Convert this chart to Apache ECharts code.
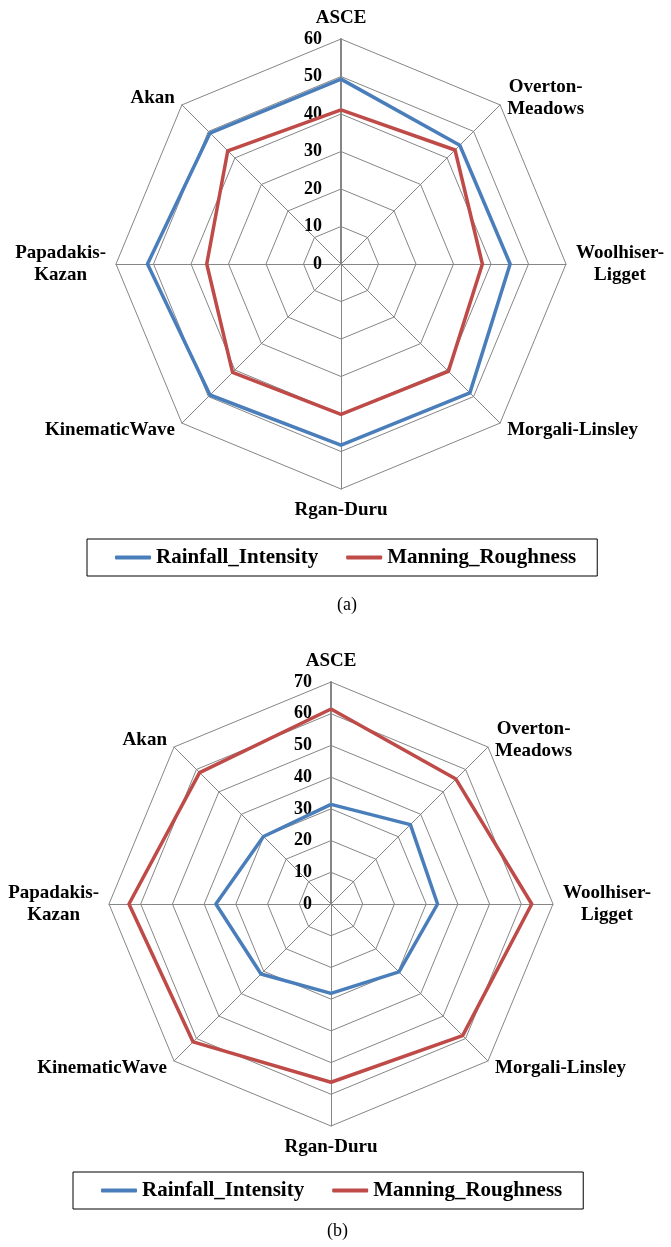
<!DOCTYPE html>
<html>
<head>
<meta charset="utf-8">
<script src="https://cdn.jsdelivr.net/npm/echarts@6/dist/echarts.min.js"></script>
<style>
html,body{margin:0;padding:0;background:#fff;}
#chart{width:671px;height:1247px;}
</style>
</head>
<body>
<div id="chart"></div>
<script>
// Categories in ECharts radar order (counter-clockwise from the top)
const categories = ['ASCE', 'Akan', 'Papadakis-\nKazan', 'KinematicWave', 'Rgan-Duru', 'Morgali-Linsley', 'Woolhiser-\nLigget', 'Overton-\nMeadows'];
const seriesNames = ['Rainfall_Intensity', 'Manning_Roughness'];

// Panel (a)
const rainfallA = [49.3, 49.4, 51.6, 49.4, 48.3, 48.6, 45.1, 44.8];
const manningA  = [41.1, 42.7, 35.8, 40.9, 40.1, 40.5, 37.7, 43.0];
const maxA = 60;

// Panel (b)
const rainfallB = [31.4, 30.1, 36.3, 31.2, 28.2, 30.3, 33.6, 35.4];
const manningB  = [61.5, 58.6, 63.7, 61.5, 56.2, 58.7, 63.3, 55.7];
const maxB = 70;

const captions = ['(a)', '(b)'];

const BLUE = '#4A7EBB', RED = '#BE4B48', GRID = '#868686';
const SERIF = '"Liberation Serif", "Times New Roman", serif';

function indicators(max) {
  return categories.map((c, i) => {
    const o = { name: c, max: max, min: 0 };
    if (i === 0) {
      o.axisLabel = { show: true };
      o.axisLine = { lineStyle: { color: GRID, width: 2 } };
    }
    return o;
  });
}

function radar(center, radius, max) {
  return {
    center: center,
    radius: radius,
    startAngle: 90,
    shape: 'polygon',
    splitNumber: max / 10,
    indicator: indicators(max),
    nameGap: 10,
    axisName: {
      color: '#000',
      fontFamily: SERIF,
      fontWeight: 'bold',
      fontSize: 19,
      formatter: function (name) {
        return name.split('\n').map(l => '{c|' + l + '}').join('\n');
      },
      rich: {
        c: { align: 'center', fontFamily: SERIF, fontWeight: 'bold', fontSize: 19, color: '#000', lineHeight: 22 }
      }
    },
    axisLine: { show: true, lineStyle: { color: GRID, width: 1 } },
    splitLine: { show: true, lineStyle: { color: GRID, width: 1 } },
    splitArea: { show: false },
    axisTick: { show: false },
    axisLabel: {
      show: false,
      margin: 19,
      color: '#000',
      fontFamily: SERIF,
      fontWeight: 'bold',
      fontSize: 18
    }
  };
}

function legend(left, top) {
  return {
    left: left,
    top: top,
    orient: 'horizontal',
    data: seriesNames,
    icon: 'roundRect',
    itemWidth: 36,
    itemHeight: 4,
    itemGap: 28,
    padding: [8, 21, 8, 28],
    borderColor: '#000',
    borderWidth: 1,
    selectedMode: false,
    textStyle: { color: '#000', fontFamily: SERIF, fontWeight: 'bold', fontSize: 21 }
  };
}

function radarSeries(idx, rain, man) {
  return {
    type: 'radar',
    radarIndex: idx,
    symbol: 'none',
    silent: true,
    data: [
      { name: seriesNames[0], value: rain, lineStyle: { color: BLUE, width: 3.5 }, itemStyle: { color: BLUE } },
      { name: seriesNames[1], value: man, lineStyle: { color: RED, width: 3.5 }, itemStyle: { color: RED } }
    ]
  };
}

const chart = echarts.init(document.getElementById('chart'), null, { renderer: 'canvas' });
chart.setOption({
  backgroundColor: '#fff',
  animation: false,
  title: [
    { text: captions[0], left: 332, top: 591, textStyle: { fontFamily: SERIF, fontWeight: 'normal', fontSize: 18, color: '#000' } },
    { text: captions[1], left: 322, top: 1217, textStyle: { fontFamily: SERIF, fontWeight: 'normal', fontSize: 18, color: '#000' } }
  ],
  radar: [radar([341, 264], 225, maxA), radar([331, 904], 222, maxB)],
  legend: [legend(87, 539), legend(73, 1172)],
  series: [radarSeries(0, rainfallA, manningA), radarSeries(1, rainfallB, manningB)]
});
</script>
</body>
</html>
